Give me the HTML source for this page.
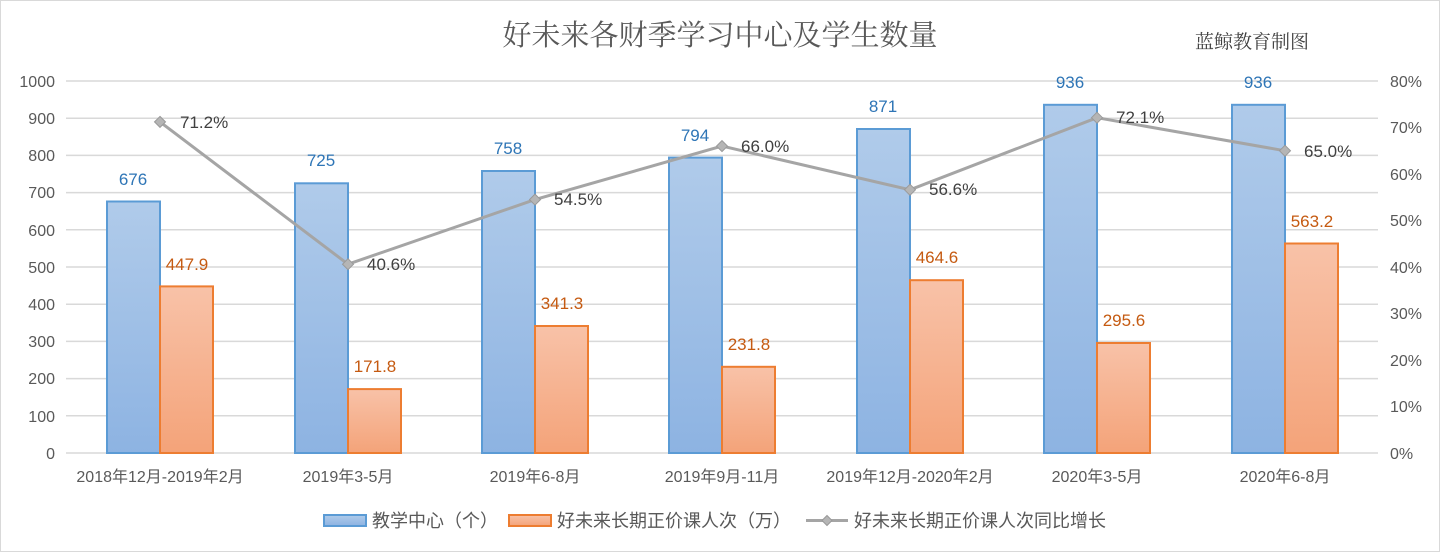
<!DOCTYPE html>
<html><head><meta charset="utf-8"><style>
html,body{margin:0;padding:0;background:#fff}
svg{display:block;font-family:"Liberation Sans","Noto Sans CJK SC",sans-serif}
</style></head><body>
<svg width="1440" height="552" viewBox="0 0 1440 552">
<defs>
<linearGradient id="gb" x1="0" y1="0" x2="0" y2="1"><stop offset="0" stop-color="#b0cbea"/><stop offset="1" stop-color="#8db3e2"/></linearGradient>
<linearGradient id="go" x1="0" y1="0" x2="0" y2="1"><stop offset="0" stop-color="#f8c2a8"/><stop offset="1" stop-color="#f4a379"/></linearGradient>
</defs>
<rect x="0.5" y="0.5" width="1439" height="551" fill="#fff" stroke="#d9d9d9"/>
<text x="720" y="45" text-anchor="middle" font-size="29" fill="#595959" font-family="'Noto Serif CJK SC',serif">好未来各财季学习中心及学生数量</text>
<text x="1252" y="48" text-anchor="middle" font-size="19" fill="#404040" font-family="'Noto Serif CJK SC',serif">蓝鲸教育制图</text>
<g stroke="#d9d9d9" stroke-width="1.5">
<line x1="66" x2="1378" y1="81" y2="81"/><line x1="66" x2="1378" y1="118.2" y2="118.2"/><line x1="66" x2="1378" y1="155.4" y2="155.4"/><line x1="66" x2="1378" y1="192.6" y2="192.6"/><line x1="66" x2="1378" y1="229.8" y2="229.8"/><line x1="66" x2="1378" y1="267" y2="267"/><line x1="66" x2="1378" y1="304.2" y2="304.2"/><line x1="66" x2="1378" y1="341.4" y2="341.4"/><line x1="66" x2="1378" y1="378.6" y2="378.6"/><line x1="66" x2="1378" y1="415.8" y2="415.8"/><line x1="66" x2="1378" y1="453" y2="453"/>
</g>
<g font-size="16" fill="#595959" text-anchor="end">
<text x="55" y="87">1000</text><text x="55" y="124">900</text><text x="55" y="161">800</text><text x="55" y="198">700</text><text x="55" y="236">600</text><text x="55" y="273">500</text><text x="55" y="310">400</text><text x="55" y="347">300</text><text x="55" y="384">200</text><text x="55" y="422">100</text><text x="55" y="459">0</text>
</g>
<g font-size="16" fill="#595959" text-anchor="start">
<text x="1390" y="87">80%</text><text x="1390" y="133">70%</text><text x="1390" y="180">60%</text><text x="1390" y="226">50%</text><text x="1390" y="273">40%</text><text x="1390" y="319">30%</text><text x="1390" y="366">20%</text><text x="1390" y="412">10%</text><text x="1390" y="459">0%</text>
</g>
<g stroke="#5b9bd5" stroke-width="2" fill="url(#gb)">
<rect x="107" y="201.5" width="53" height="251.5"/><rect x="295" y="183.3" width="53" height="269.7"/><rect x="482" y="171" width="53" height="282"/><rect x="669" y="157.6" width="53" height="295.4"/><rect x="857" y="129" width="53" height="324"/><rect x="1044" y="104.8" width="53" height="348.2"/><rect x="1232" y="104.8" width="53" height="348.2"/>
</g>
<g stroke="#ed7d31" stroke-width="2" fill="url(#go)">
<rect x="160" y="286.4" width="53" height="166.6"/><rect x="348" y="389.1" width="53" height="63.9"/><rect x="535" y="326" width="53" height="127"/><rect x="722" y="366.8" width="53" height="86.2"/><rect x="910" y="280.2" width="53" height="172.8"/><rect x="1097" y="343" width="53" height="110"/><rect x="1285" y="243.5" width="53" height="209.5"/>
</g>
<g font-size="17" fill="#2e75b6" text-anchor="middle">
<text x="133" y="185">676</text><text x="321" y="166">725</text><text x="508" y="154">758</text><text x="695" y="141">794</text><text x="883" y="112">871</text><text x="1070" y="88">936</text><text x="1258" y="88">936</text>
</g>
<g font-size="17" fill="#c55a11" text-anchor="middle">
<text x="187" y="270">447.9</text><text x="375" y="372">171.8</text><text x="562" y="309">341.3</text><text x="749" y="350">231.8</text><text x="937" y="263">464.6</text><text x="1124" y="326">295.6</text><text x="1312" y="227">563.2</text>
</g>
<polyline points="160,121.9 348,264.2 535,199.6 722,146.1 910,189.8 1097,117.7 1285,150.8" fill="none" stroke="#a5a5a5" stroke-width="3"/>
<g fill="#b5b5b5" stroke="#999" stroke-width="1">
<path d="M160 116.4l5.5 5.5-5.5 5.5-5.5-5.5z"/><path d="M348 258.7l5.5 5.5-5.5 5.5-5.5-5.5z"/><path d="M535 194.1l5.5 5.5-5.5 5.5-5.5-5.5z"/><path d="M722 140.6l5.5 5.5-5.5 5.5-5.5-5.5z"/><path d="M910 184.3l5.5 5.5-5.5 5.5-5.5-5.5z"/><path d="M1097 112.2l5.5 5.5-5.5 5.5-5.5-5.5z"/><path d="M1285 145.3l5.5 5.5-5.5 5.5-5.5-5.5z"/>
</g>
<g font-size="17" fill="#404040">
<text x="180" y="128">71.2%</text><text x="367" y="270">40.6%</text><text x="554" y="205">54.5%</text><text x="741" y="152">66.0%</text><text x="929" y="195">56.6%</text><text x="1116" y="123">72.1%</text><text x="1304" y="157">65.0%</text>
</g>
<g font-size="16" fill="#595959" text-anchor="middle">
<text x="160" y="482">2018年12月-2019年2月</text><text x="348" y="482">2019年3-5月</text><text x="535" y="482">2019年6-8月</text><text x="722" y="482">2019年9月-11月</text><text x="910" y="482">2019年12月-2020年2月</text><text x="1097" y="482">2020年3-5月</text><text x="1285" y="482">2020年6-8月</text>
</g>
<rect x="324" y="515" width="42" height="11" fill="url(#gb)" stroke="#5b9bd5" stroke-width="2"/>
<text x="372" y="527" font-size="18" fill="#595959">教学中心（个）</text>
<rect x="509" y="515" width="42" height="11" fill="url(#go)" stroke="#ed7d31" stroke-width="2"/>
<text x="557" y="527" font-size="18" fill="#595959">好未来长期正价课人次（万）</text>
<line x1="806" x2="848" y1="520.5" y2="520.5" stroke="#a5a5a5" stroke-width="3"/>
<path d="M827 515.5l5 5-5 5-5-5z" fill="#b5b5b5" stroke="#999"/>
<text x="854" y="527" font-size="18" fill="#595959">好未来长期正价课人次同比增长</text>
</svg>
</body></html>
